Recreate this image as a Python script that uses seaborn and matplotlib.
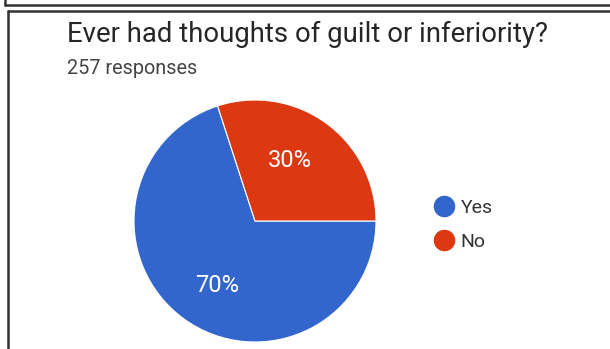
import matplotlib
matplotlib.use("Agg")
import matplotlib.pyplot as plt
from matplotlib.lines import Line2D
import seaborn as sns

# Survey answers
categories = ["Yes", "No"]
shares = [70, 30]
responses = 257
question = "Ever had thoughts of guilt or inferiority?"
slice_colors = ["#3366CC", "#DC3912"]

sns.set_theme(style="white")
plt.rcParams["font.family"] = ["Roboto", "DejaVu Sans"]

W, H = 610, 349
fig = plt.figure(figsize=(W / 100, H / 100), dpi=100)
fig.patch.set_facecolor("white")


def fx(px):
    return px / W


def fy(py):
    return 1 - py / H


# Frame lines around the card
line_kw = dict(color="#333333", linewidth=1.8, transform=fig.transFigure)
fig.add_artist(Line2D([fx(4.5), fx(4.5)], [fy(0), fy(5)], **line_kw))
fig.add_artist(Line2D([fx(4.5), fx(W)], [fy(5), fy(5)], **line_kw))
fig.add_artist(Line2D([fx(8), fx(8)], [fy(10.5), fy(H)], **line_kw))
fig.add_artist(Line2D([fx(8), fx(W)], [fy(10.5), fy(10.5)], **line_kw))

# Heading
fig.text(fx(67), fy(42), question, fontsize=19.8, color="#262626", va="baseline", ha="left")
fig.text(fx(67), fy(74), f"{responses} responses", fontsize=14.3, color="#444444",
         va="baseline", ha="left")

# Pie
cx, cy, r = 255, 221, 121
ax = fig.add_axes([fx(cx - r), fy(cy + r), (2 * r) / W, (2 * r) / H])
wedges, texts, autotexts = ax.pie(
    shares,
    colors=slice_colors,
    startangle=108,
    counterclock=True,
    autopct=lambda p: f"{p:.0f}%",
    pctdistance=0.6,
    wedgeprops=dict(edgecolor="white", linewidth=0.8),
    textprops=dict(color="white", fontsize=17),
)
# Percentage labels sit slightly off the wedge bisectors
label_spots = [(-0.31, -0.53), (0.29, 0.50)]
for t, (lx, ly) in zip(autotexts, label_spots):
    t.set_position((lx, ly))
    t.set_va("center")
    t.set_ha("center")
ax.set_xlim(-1, 1)
ax.set_ylim(-1, 1)
ax.set_aspect("equal")
ax.axis("off")

# Legend
handles = [Line2D([0], [0], marker="o", linestyle="", markersize=14.5,
                  markerfacecolor=c, markeredgecolor=c) for c in slice_colors]
fig.legend(handles, categories, loc="center left",
           bbox_to_anchor=(fx(420), fy(225)), frameon=False,
           fontsize=14, labelcolor="#333333", handletextpad=0.1,
           labelspacing=0.85, handlelength=1.5, borderpad=0)

fig.savefig("out.png", dpi=100, facecolor="white")
